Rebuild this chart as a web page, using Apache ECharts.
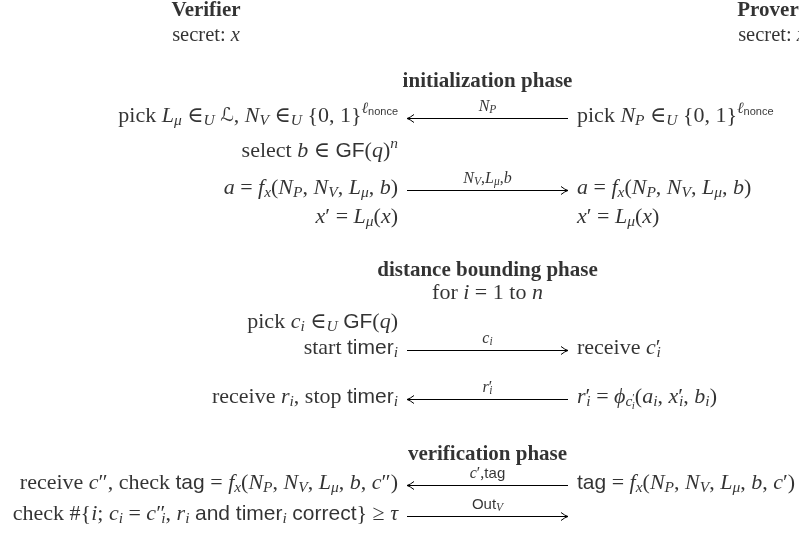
<!DOCTYPE html>
<html>
<head>
<meta charset="utf-8">
<script src="https://cdn.jsdelivr.net/npm/echarts@6/dist/echarts.min.js"></script>
<style>
html, body { margin: 0; padding: 0; background: #fff; }
#chart { width: 799px; height: 548px; }
</style>
</head>
<body>
<div id="chart"></div>
<script>
const titleTexts = [
  "{b|Verifier}", "{t|secret: }{ti|x}", "{b|Prover}", "{t|secret: }{ti|x}",
  "{b|initialization phase}", "{b|distance bounding phase}",
  "for {i|i} = 1 to {i|n}", "{b|verification phase}"
];
const titleX = [206, 206, 768, 772, 487.5, 487.5, 487.5, 487.5];
const titleY = [10.5, 35.5, 10.5, 35.5, 81.5, 270.5, 293.5, 454.5];

const verifierSteps = [
  "pick {i|L}{isb|μ} ∈{isb|U} {cal|ℒ}, {i|N}{isb|V} ∈{isb|U} {0, 1}{isp|ℓ}{ssp|nonce}",
  "select {i|b} ∈ {s|GF}({i|q}){isp|n}",
  "{i|a} = {i|f}{isb|x}({i|N}{isb|P}, {i|N}{isb|V}, {i|L}{isb|μ}, {i|b})",
  "{i|x}′ = {i|L}{isb|μ}({i|x})",
  "pick {i|c}{isb|i} ∈{isb|U} {s|GF}({i|q})",
  "start {s|timer}{isb|i}",
  "receive {i|r}{isb|i}, stop {s|timer}{isb|i}",
  "receive {i|c}″, check {s|tag} = {i|f}{isb|x}({i|N}{isb|P}, {i|N}{isb|V}, {i|L}{isb|μ}, {i|b}, {i|c}″)",
  "check #{{i|i}; {i|c}{isb|i} = {i|c}″{isk|i}, {i|r}{isb|i} {s|and timer}{isb|i} {s|correct}} ≥ {i|τ}"
];
const verifierY = [116.5, 151.5, 188.5, 217.5, 322.5, 348.5, 397.5, 483, 514];

const proverSteps = [
  "pick {i|N}{isb|P} ∈{isb|U} {0, 1}{isp|ℓ}{ssp|nonce}",
  "{i|a} = {i|f}{isb|x}({i|N}{isb|P}, {i|N}{isb|V}, {i|L}{isb|μ}, {i|b})",
  "{i|x}′ = {i|L}{isb|μ}({i|x})",
  "receive {i|c}′{isk|i}",
  "{i|r}′{isk|i} = {i|ϕ}{isb|c}{psb|′}{isb2|i}({i|a}{isb|i}, {i|x}′{isk|i}, {i|b}{isb|i})",
  "{s|tag} = {i|f}{isb|x}({i|N}{isb|P}, {i|N}{isb|V}, {i|L}{isb|μ}, {i|b}, {i|c}′)"
];
const proverY = [116.5, 188.5, 217.5, 348.5, 397.5, 483];

const messageLabels = [
  "{li|N}{lisb|P}",
  "{li|N}{lisb|V}{lr|,}{li|L}{lisb|μ}{lr|,}{li|b}",
  "{li|c}{lisb|i}",
  "{li|r}{lr|′}{lisk|i}",
  "{li|c}{lr|′,}{ls|tag}",
  "{ls|Out}{lisb|V}"
];
const messageDir = [-1, 1, 1, -1, -1, 1];
const messageY = [118, 190, 350, 399, 484.5, 515.5];

const col = { verifierRight: 398, channelFrom: 407, channelTo: 568, channelMid: 487.5, proverLeft: 577 };

const serif = "'Liberation Serif', 'DejaVu Serif', serif";
const sans = "'Liberation Sans', 'DejaVu Sans', sans-serif";

function st(family, size, extra) {
  return Object.assign({
    fontFamily: family, fontSize: size, color: "#000",
    fontStyle: "normal", fontWeight: "normal", verticalAlign: "middle"
  }, extra);
}

const rich = {
  t: st(serif, 20.5),
  ti: st(serif, 20.5, { fontStyle: "italic" }),
  i: st(serif, 22, { fontStyle: "italic" }),
  b: st(serif, 21, { fontWeight: "bold" }),
  s: st(sans, 21),
  cal: st("'DejaVu Serif', 'DejaVu Sans'", 19, { fontStyle: "italic" }),
  isb: st(serif, 15.5, { fontStyle: "italic", padding: [9, 0, 0, 0] }),
  isk: st(serif, 15.5, { fontStyle: "italic", padding: [9, 0, 0, -4] }),
  isp: st(serif, 15.5, { fontStyle: "italic", padding: [0, 0, 15, 0] }),
  ssp: st(sans, 11, { padding: [0, 0, 9, 0] }),
  psb: st(serif, 11, { padding: [2, 0, 0, 0] }),
  isb2: st(serif, 11, { fontStyle: "italic", padding: [17, 0, 0, -3] }),
  li: st(serif, 16, { fontStyle: "italic" }),
  lr: st(serif, 16),
  ls: st(sans, 15),
  lisb: st(serif, 11.5, { fontStyle: "italic", padding: [6, 0, 0, 0] }),
  lisk: st(serif, 11.5, { fontStyle: "italic", padding: [6, 0, 0, -3] })
};

function textSeries(points, texts, position) {
  return {
    type: "scatter",
    silent: true,
    symbolSize: 0,
    data: points,
    label: {
      show: true,
      position: position,
      distance: 0,
      color: "#000",
      fontFamily: serif,
      fontSize: 22,
      lineHeight: 26,
      formatter: p => texts[p.dataIndex],
      rich: rich
    },
    emphasis: { disabled: true }
  };
}

const chart = echarts.init(document.getElementById("chart"), null, { renderer: "canvas" });

chart.setOption({
  animation: false,
  backgroundColor: "#fff",
  grid: { left: 0, right: 0, top: 0, bottom: 0 },
  xAxis: { type: "value", min: 0, max: 799, show: false },
  yAxis: { type: "value", min: 0, max: 548, inverse: true, show: false },
  series: [
    textSeries(titleX.map((x, k) => [x, titleY[k]]), titleTexts, "inside"),
    textSeries(verifierY.map(y => [col.verifierRight, y]), verifierSteps, "left"),
    textSeries(proverY.map(y => [col.proverLeft, y]), proverSteps, "right"),
    textSeries(messageY.map(y => [col.channelMid, y - 11]), messageLabels, "inside"),
    {
      type: "custom",
      silent: true,
      data: messageY.map((y, k) => [y, messageDir[k]]),
      renderItem: (params, api) => {
        const dir = api.value(1);
        const a = api.coord([col.channelFrom, api.value(0)]);
        const b = api.coord([col.channelTo, api.value(0)]);
        const y = Math.round(a[1]) + 0.5;
        const tip = dir > 0 ? b[0] : a[0];
        const s = dir > 0 ? 1 : -1;
        const line = { stroke: "#000", lineWidth: 1, fill: null };
        return {
          type: "group",
          children: [
            { type: "line", shape: { x1: a[0], y1: y, x2: b[0], y2: y }, style: line },
            { type: "bezierCurve", shape: { x1: tip - s * 7, y1: y - 4, cpx1: tip - s * 3, cpy1: y - 0.8, x2: tip, y2: y }, style: line },
            { type: "bezierCurve", shape: { x1: tip - s * 7, y1: y + 4, cpx1: tip - s * 3, cpy1: y + 0.8, x2: tip, y2: y }, style: line }
          ]
        };
      }
    }
  ]
});
</script>
</body>
</html>
